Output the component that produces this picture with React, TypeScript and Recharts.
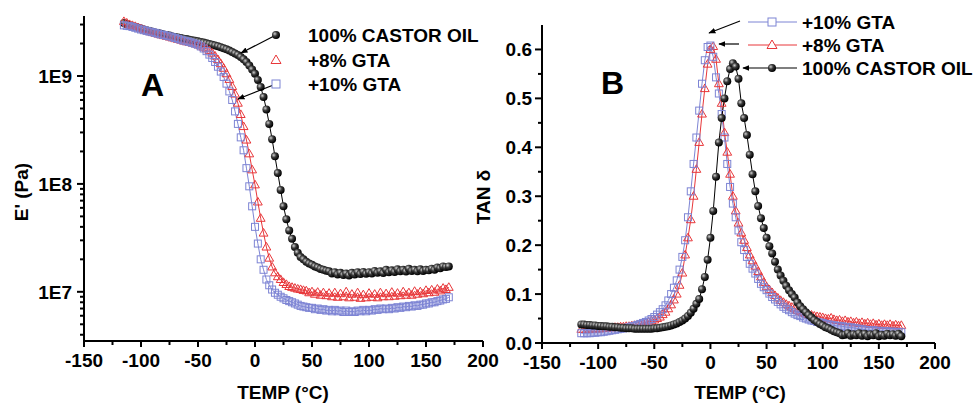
import { LineChart, Line, XAxis, YAxis } from "recharts";

// temperature grid (°C) shared by all series
const TEMPS = [
  -115, -112.5, -110, -107.5, -105, -102.5, -100, -97.5, -95, -92.5, -90, -87.5, -85, -82.5, -80, -77.5, -75, -72.5,
  -70, -67.5, -65, -62.5, -60, -57.5, -55, -52.5, -50, -47.5, -45, -42.5, -40, -37.5, -35, -32.5, -30,
  -27.5, -25, -22.5, -20, -17.5, -15, -12.5, -10, -7.5, -5, -2.5, 0, 2.5, 5, 7.5, 10, 12.5, 15, 17.5, 20, 22.5, 25, 27.5, 30, 32.5, 35, 37.5, 40,
  42.5, 45, 47.5, 50, 52.5, 55, 57.5, 60, 62.5, 65, 67.5, 70, 72.5, 75, 77.5, 80, 82.5, 85, 87.5, 90, 92.5, 95, 97.5, 100,
  102.5, 105, 107.5, 110, 112.5, 115, 117.5, 120, 122.5, 125, 127.5, 130, 132.5, 135, 137.5, 140, 142.5, 145, 147.5, 150,
  152.5, 155, 157.5, 160, 162.5, 165, 167.5, 170,
];

// panel A: storage modulus E' (Pa)
const CASTOR_E = [
  3.1e9, 3.02e9, 2.95e9, 2.9e9, 2.85e9, 2.8e9, 2.75e9, 2.7e9, 2.65e9, 2.61e9, 2.57e9, 2.53e9, 2.5e9, 2.46e9, 2.43e9, 2.4e9, 2.37e9, 2.33e9,
  2.3e9, 2.27e9, 2.25e9, 2.22e9, 2.2e9, 2.17e9, 2.15e9, 2.12e9, 2.1e9, 2.07e9, 2.04e9, 2.01e9, 1.98e9, 1.95e9, 1.92e9, 1.89e9, 1.85e9,
  1.81e9, 1.77e9, 1.72e9, 1.67e9, 1.62e9, 1.57e9, 1.5e9, 1.43e9, 1.35e9, 1.25e9, 1.15e9, 1.05e9, 9.2e8, 7.9e8, 6.4e8, 4.9e8, 3.6e8, 2.6e8, 1.8e8, 1.26e8, 8.8e7, 6.2e7, 4.7e7, 3.7e7, 3.1e7, 2.6e7, 2.3e7, 2.1e7,
  2.0e7, 1.9e7, 1.83e7, 1.78e7, 1.72e7, 1.68e7, 1.63e7, 1.6e7, 1.57e7, 1.55e7, 1.48e7, 1.52e7, 1.45e7, 1.5e7, 1.43e7, 1.48e7, 1.42e7, 1.5e7, 1.45e7, 1.52e7, 1.46e7, 1.53e7, 1.47e7, 1.52e7,
  1.48e7, 1.56e7, 1.5e7, 1.55e7, 1.49e7, 1.6e7, 1.52e7, 1.58e7, 1.53e7, 1.62e7, 1.55e7, 1.6e7, 1.54e7, 1.64e7, 1.56e7, 1.6e7, 1.55e7, 1.62e7, 1.56e7, 1.6e7,
  1.58e7, 1.64e7, 1.6e7, 1.68e7, 1.65e7, 1.72e7, 1.7e7, 1.72e7,
];
const GTA8_E = [
  3.2e9, 3.1e9, 3.0e9, 2.94e9, 2.88e9, 2.81e9, 2.75e9, 2.69e9, 2.63e9, 2.58e9, 2.53e9, 2.49e9, 2.45e9, 2.41e9, 2.37e9, 2.33e9, 2.3e9, 2.26e9,
  2.22e9, 2.18e9, 2.15e9, 2.11e9, 2.08e9, 2.05e9, 2.02e9, 1.99e9, 1.95e9, 1.9e9, 1.85e9, 1.79e9, 1.72e9, 1.63e9, 1.53e9, 1.42e9, 1.3e9,
  1.18e9, 1.05e9, 9.3e8, 8e8, 6.8e8, 5.6e8, 4.4e8, 3.4e8, 2.55e8, 1.9e8, 1.35e8, 9.8e7, 6.8e7, 4.8e7, 3.5e7, 2.6e7, 2.05e7, 1.7e7, 1.5e7, 1.38e7, 1.3e7, 1.22e7, 1.17e7, 1.12e7, 1.1e7, 1.08e7, 1.06e7, 1.05e7,
  1.03e7, 1.02e7, 9.8e6, 1.0e7, 9.5e6, 9.9e6, 9.3e6, 9.8e6, 9.2e6, 9.7e6, 9.0e6, 9.8e6, 8.9e6, 9.6e6, 9.0e6, 1.0e7, 8.8e6, 9.5e6, 8.9e6, 9.8e6, 8.7e6, 9.4e6, 8.8e6, 9.7e6,
  8.9e6, 9.5e6, 8.8e6, 9.8e6, 9.0e6, 9.6e6, 9.0e6, 9.9e6, 9.1e6, 9.7e6, 9.2e6, 1.0e7, 9.3e6, 9.8e6, 9.3e6, 1.01e7, 9.5e6, 1.0e7, 9.6e6, 1.03e7,
  9.8e6, 1.04e7, 9.9e6, 1.06e7, 1.02e7, 1.08e7, 1.05e7, 1.1e7,
];
const GTA10_E = [
  2.95e9, 2.92e9, 2.9e9, 2.85e9, 2.8e9, 2.75e9, 2.7e9, 2.66e9, 2.62e9, 2.58e9, 2.55e9, 2.51e9, 2.47e9, 2.43e9, 2.4e9, 2.36e9, 2.33e9, 2.29e9,
  2.25e9, 2.21e9, 2.17e9, 2.13e9, 2.1e9, 2.07e9, 2.03e9, 1.99e9, 1.95e9, 1.88e9, 1.8e9, 1.7e9, 1.58e9, 1.47e9, 1.35e9, 1.22e9, 1.1e9,
  9.8e8, 8.5e8, 7.2e8, 6e8, 4.7e8, 3.6e8, 2.7e8, 2.05e8, 1.4e8, 9.5e7, 6.2e7, 4e7, 2.8e7, 2e7, 1.6e7, 1.3e7, 1.15e7, 1.05e7, 9.8e6, 9.4e6, 9e6, 8.7e6, 8.4e6, 8.2e6, 8e6, 7.8e6, 7.6e6, 7.4e6,
  7.3e6, 7.2e6, 7.1e6, 7.1e6, 6.9e6, 7.0e6, 6.8e6, 6.9e6, 6.7e6, 6.8e6, 6.6e6, 6.8e6, 6.6e6, 6.7e6, 6.5e6, 6.7e6, 6.5e6, 6.6e6, 6.5e6, 6.7e6, 6.6e6, 6.8e6, 6.6e6, 6.8e6,
  6.7e6, 6.9e6, 6.8e6, 7.0e6, 6.9e6, 7.0e6, 6.9e6, 7.1e6, 7.0e6, 7.2e6, 7.1e6, 7.3e6, 7.2e6, 7.4e6, 7.3e6, 7.5e6, 7.4e6, 7.6e6, 7.6e6, 7.8e6,
  7.8e6, 8.0e6, 8.0e6, 8.2e6, 8.3e6, 8.5e6, 8.6e6, 8.9e6,
];

// panel B: tan delta
const CASTOR_TAN = [
  0.038, 0.038, 0.037, 0.037, 0.036, 0.036, 0.035, 0.035, 0.034, 0.034, 0.033, 0.033, 0.032, 0.032, 0.031, 0.031, 0.03, 0.03,
  0.03, 0.029, 0.029, 0.029, 0.029, 0.029, 0.029, 0.029, 0.03, 0.03, 0.031, 0.032, 0.033, 0.034, 0.036, 0.038, 0.04,
  0.043, 0.046, 0.05, 0.055, 0.062, 0.07, 0.08, 0.09, 0.11, 0.135, 0.17, 0.215, 0.27, 0.34, 0.41, 0.46, 0.5, 0.535, 0.56, 0.572, 0.565, 0.54, 0.49, 0.46, 0.425, 0.385, 0.345, 0.31,
  0.28, 0.255, 0.235, 0.215, 0.198, 0.183, 0.166, 0.15, 0.138, 0.127, 0.117, 0.108, 0.1, 0.093, 0.083, 0.075, 0.069, 0.063, 0.057, 0.052, 0.047, 0.043, 0.039, 0.036,
  0.032, 0.03, 0.027, 0.024, 0.022, 0.02, 0.016, 0.017, 0.02, 0.015, 0.018, 0.016, 0.02, 0.015, 0.019, 0.014, 0.018, 0.016, 0.02, 0.014,
  0.017, 0.015, 0.019, 0.016, 0.018, 0.015, 0.019, 0.014,
];
const GTA8_TAN = [
  0.028, 0.028, 0.028, 0.028, 0.029, 0.029, 0.029, 0.029, 0.03, 0.03, 0.031, 0.031, 0.032, 0.032, 0.033, 0.033, 0.034, 0.034,
  0.035, 0.036, 0.037, 0.038, 0.039, 0.041, 0.043, 0.045, 0.047, 0.05, 0.053, 0.058, 0.063, 0.07, 0.078, 0.088, 0.1,
  0.118, 0.143, 0.18, 0.215, 0.252, 0.3, 0.355, 0.41, 0.468, 0.52, 0.57, 0.6, 0.606, 0.58, 0.53, 0.49, 0.43, 0.39, 0.345, 0.3, 0.27, 0.245, 0.225, 0.21, 0.195, 0.18, 0.168, 0.157,
  0.146, 0.135, 0.124, 0.115, 0.109, 0.103, 0.097, 0.092, 0.087, 0.083, 0.079, 0.076, 0.073, 0.07, 0.067, 0.064, 0.062, 0.06, 0.058, 0.057, 0.055, 0.054, 0.053, 0.052,
  0.05, 0.049, 0.051, 0.048, 0.046, 0.047, 0.044, 0.046, 0.043, 0.044, 0.041, 0.043, 0.04, 0.042, 0.039, 0.041, 0.038, 0.04, 0.037, 0.039,
  0.036, 0.038, 0.036, 0.038, 0.035, 0.037, 0.035, 0.036,
];
const GTA10_TAN = [
  0.02, 0.02, 0.02, 0.02, 0.021, 0.021, 0.022, 0.022, 0.023, 0.024, 0.025, 0.026, 0.027, 0.028, 0.029, 0.03, 0.031, 0.032,
  0.034, 0.035, 0.037, 0.039, 0.041, 0.043, 0.046, 0.049, 0.053, 0.058, 0.063, 0.069, 0.077, 0.087, 0.1, 0.113, 0.128,
  0.15, 0.176, 0.21, 0.257, 0.31, 0.366, 0.42, 0.475, 0.53, 0.578, 0.605, 0.608, 0.585, 0.543, 0.51, 0.468, 0.42, 0.366, 0.319, 0.285, 0.257, 0.23, 0.206, 0.19, 0.176, 0.162, 0.152, 0.142,
  0.131, 0.121, 0.114, 0.108, 0.101, 0.094, 0.089, 0.084, 0.079, 0.074, 0.07, 0.067, 0.063, 0.06, 0.057, 0.055, 0.052, 0.05, 0.048, 0.046, 0.045, 0.043, 0.042, 0.041,
  0.039, 0.038, 0.037, 0.036, 0.035, 0.035, 0.034, 0.033, 0.032, 0.032, 0.031, 0.03, 0.029, 0.028, 0.027, 0.026, 0.026, 0.026, 0.025, 0.025,
  0.024, 0.024, 0.024, 0.023, 0.023, 0.023, 0.022, 0.022,
];

const X_TICKS = [-150, -125, -100, -75, -50, -25, 0, 25, 50, 75, 100, 125, 150, 175, 200];
const E_TICKS = [
  4e6, 5e6, 6e6, 7e6, 8e6, 9e6, 1e7, 2e7, 3e7, 4e7, 5e7, 6e7, 7e7, 8e7, 9e7,
  1e8, 2e8, 3e8, 4e8, 5e8, 6e8, 7e8, 8e8, 9e8, 1e9, 2e9, 3e9,
];
const TAN_TICKS = [0, 0.05, 0.1, 0.15, 0.2, 0.25, 0.3, 0.35, 0.4, 0.45, 0.5, 0.55, 0.6];

const dataA = TEMPS.map((t, i) => ({ t, castor: CASTOR_E[i], gta8: GTA8_E[i], gta10: GTA10_E[i] }));
const dataB = TEMPS.map((t, i) => ({ t, castor: CASTOR_TAN[i], gta8: GTA8_TAN[i], gta10: GTA10_TAN[i] }));

const FONT = "'Liberation Sans', Arial, Helvetica, sans-serif";
const RED = "#e8373a";
const BLUE = "#7d84d4";

const XTick = (p: any) => {
  const v = p.payload.value;
  const major = v % 50 === 0;
  return (
    <g>
      <line x1={p.x} y1={p.y} x2={p.x} y2={p.y + (major ? 6 : 4)} stroke="#000" strokeWidth={2} />
      {major && (
        <text x={p.x} y={p.y + 26} textAnchor="middle" fontSize={19} fontWeight="bold" fontFamily={FONT} fill="#000">
          {v}
        </text>
      )}
    </g>
  );
};

const ETick = (p: any) => {
  const v = p.payload.value;
  const lg = Math.log10(v);
  const major = Math.abs(lg - Math.round(lg)) < 1e-6;
  return (
    <g>
      <line x1={p.x} y1={p.y} x2={p.x - (major ? 7 : 4)} y2={p.y} stroke="#000" strokeWidth={2} />
      {major && (
        <text x={p.x - 12} y={p.y + 7} textAnchor="end" fontSize={19} fontWeight="bold" fontFamily={FONT} fill="#000">
          {"1E" + Math.round(lg)}
        </text>
      )}
    </g>
  );
};

const TanTick = (p: any) => {
  const v = p.payload.value;
  const major = Math.abs(v * 10 - Math.round(v * 10)) < 1e-6;
  return (
    <g>
      <line x1={p.x} y1={p.y} x2={p.x - (major ? 7 : 4)} y2={p.y} stroke="#000" strokeWidth={2} />
      {major && (
        <text x={p.x - 10} y={p.y + 7} textAnchor="end" fontSize={19} fontWeight="bold" fontFamily={FONT} fill="#000">
          {v.toFixed(1)}
        </text>
      )}
    </g>
  );
};

const ballDot = (p: any) => (
  <circle key={`b-${p.index}`} cx={p.cx} cy={p.cy} r={4} fill="url(#ball)" />
);
const triDot = (p: any) => (
  <polygon
    key={`t-${p.index}`}
    points={`${p.cx},${p.cy - 4.6} ${p.cx - 4.4},${p.cy + 3} ${p.cx + 4.4},${p.cy + 3}`}
    fill="none"
    stroke={RED}
    strokeWidth={1}
  />
);
const sqDot = (p: any) => (
  <rect key={`s-${p.index}`} x={p.cx - 3.5} y={p.cy - 3.5} width={7} height={7} fill="none" stroke={BLUE} strokeWidth={1} />
);

const axisLine = { stroke: "#000", strokeWidth: 2 };

export default function App() {
  const txt = { fontFamily: FONT, fontWeight: "bold" as const, fill: "#000" };
  return (
    <div style={{ position: "absolute", left: 0, top: 0, width: 973, height: 405, background: "#fff" }}>
      <svg width={0} height={0} style={{ position: "absolute" }}>
        <defs>
          <radialGradient id="ball" cx="35%" cy="35%" r="65%">
            <stop offset="0%" stopColor="#d0d0d0" />
            <stop offset="45%" stopColor="#3a3a3a" />
            <stop offset="100%" stopColor="#000" />
          </radialGradient>
        </defs>
      </svg>

      <div style={{ position: "absolute", left: 0, top: 0 }}>
        <LineChart width={520} height={405} data={dataA} margin={{ top: 16, right: 37, bottom: 34, left: 0 }}>
          <XAxis
            dataKey="t"
            type="number"
            domain={[-150, 200]}
            ticks={X_TICKS}
            interval={0}
            axisLine={axisLine}
            tickLine={false}
            tickSize={0}
            tickMargin={0}
            height={30}
            tick={(p: any) => <XTick {...p} />}
          />
          <YAxis
            type="number"
            scale="log"
            domain={[3.5e6, 3.6e9]}
            allowDataOverflow
            ticks={E_TICKS}
            interval={0}
            width={84}
            axisLine={axisLine}
            tickLine={false}
            tickSize={0}
            tickMargin={0}
            tick={(p: any) => <ETick {...p} />}
          />
          <Line dataKey="castor" stroke="#000" strokeWidth={1} dot={ballDot} activeDot={false} isAnimationActive={false} />
          <Line dataKey="gta8" stroke={RED} strokeWidth={1} dot={triDot} activeDot={false} isAnimationActive={false} />
          <Line dataKey="gta10" stroke={BLUE} strokeWidth={1} dot={sqDot} activeDot={false} isAnimationActive={false} />
        </LineChart>
      </div>

      <div style={{ position: "absolute", left: 490, top: 0 }}>
        <LineChart width={483} height={405} data={dataB} margin={{ top: 25, right: 38, bottom: 32, left: 0 }}>
          <XAxis
            dataKey="t"
            type="number"
            domain={[-150, 200]}
            ticks={X_TICKS}
            interval={0}
            axisLine={axisLine}
            tickLine={false}
            tickSize={0}
            tickMargin={0}
            height={30}
            tick={(p: any) => <XTick {...p} />}
          />
          <YAxis
            type="number"
            domain={[0, 0.65]}
            allowDataOverflow
            ticks={TAN_TICKS}
            interval={0}
            width={52}
            axisLine={axisLine}
            tickLine={false}
            tickSize={0}
            tickMargin={0}
            tick={(p: any) => <TanTick {...p} />}
          />
          <Line dataKey="gta8" stroke={RED} strokeWidth={1} dot={triDot} activeDot={false} isAnimationActive={false} />
          <Line dataKey="gta10" stroke={BLUE} strokeWidth={1} dot={sqDot} activeDot={false} isAnimationActive={false} />
          <Line dataKey="castor" stroke="#000" strokeWidth={1} dot={ballDot} activeDot={false} isAnimationActive={false} />
        </LineChart>
      </div>

      {/* titles, legends and arrows */}
      <svg width={973} height={405} style={{ position: "absolute", left: 0, top: 0, pointerEvents: "none" }}>
        <defs>
          <marker id="arr" viewBox="0 0 10 10" refX="9" refY="5" markerWidth="6" markerHeight="6" orient="auto">
            <path d="M0,1 L10,5 L0,9 z" fill="#000" />
          </marker>
        </defs>

        <text {...txt} x={283} y={399} fontSize={19} textAnchor="middle">TEMP (°C)</text>
        <text {...txt} x={740} y={399} fontSize={19} textAnchor="middle">TEMP (°C)</text>
        <text {...txt} transform="translate(28,192) rotate(-90)" fontSize={19} textAnchor="middle">E' (Pa)</text>
        <text {...txt} transform="translate(490,197) rotate(-90)" fontSize={19} textAnchor="middle">TAN δ</text>

        <text {...txt} x={141} y={96} fontSize={32}>A</text>
        <text {...txt} x={601} y={94} fontSize={32}>B</text>

        {/* legend A */}
        <line x1={276} y1={35} x2={241} y2={53} stroke="#000" strokeWidth={1.2} markerEnd="url(#arr)" />
        <line x1={276} y1={84} x2={238} y2={99} stroke="#000" strokeWidth={1.2} markerEnd="url(#arr)" />
        <circle cx={276} cy={35} r={4} fill="url(#ball)" />
        <polygon points="276,55 271,63.5 281,63.5" fill="#fff" stroke={RED} strokeWidth={1} />
        <rect x={272} y={80} width={8} height={8} fill="#fff" stroke={BLUE} strokeWidth={1} />
        <text {...txt} x={308} y={42} fontSize={19}>100% CASTOR OIL</text>
        <text {...txt} x={308} y={67} fontSize={19}>+8% GTA</text>
        <text {...txt} x={308} y={91} fontSize={19}>+10% GTA</text>

        {/* legend B */}
        <line x1={740} y1={21} x2={709} y2={33} stroke="#000" strokeWidth={1.2} markerEnd="url(#arr)" />
        <line x1={739} y1={44} x2={719} y2={44} stroke="#000" strokeWidth={1.2} markerEnd="url(#arr)" />
        <line x1={748} y1={22} x2={797} y2={22} stroke={BLUE} strokeWidth={1} />
        <rect x={768} y={18} width={8} height={8} fill="#fff" stroke={BLUE} strokeWidth={1} />
        <line x1={748} y1={45} x2={797} y2={45} stroke={RED} strokeWidth={1} />
        <polygon points="772,40 767,48.5 777,48.5" fill="#fff" stroke={RED} strokeWidth={1} />
        <line x1={797} y1={68} x2={743} y2={68} stroke="#000" strokeWidth={1.2} markerEnd="url(#arr)" />
        <circle cx={772} cy={68} r={4} fill="url(#ball)" />
        <text {...txt} x={802} y={29} fontSize={19}>+10% GTA</text>
        <text {...txt} x={802} y={52} fontSize={19}>+8% GTA</text>
        <text {...txt} x={802} y={75} fontSize={19}>100% CASTOR OIL</text>
      </svg>
    </div>
  );
}
